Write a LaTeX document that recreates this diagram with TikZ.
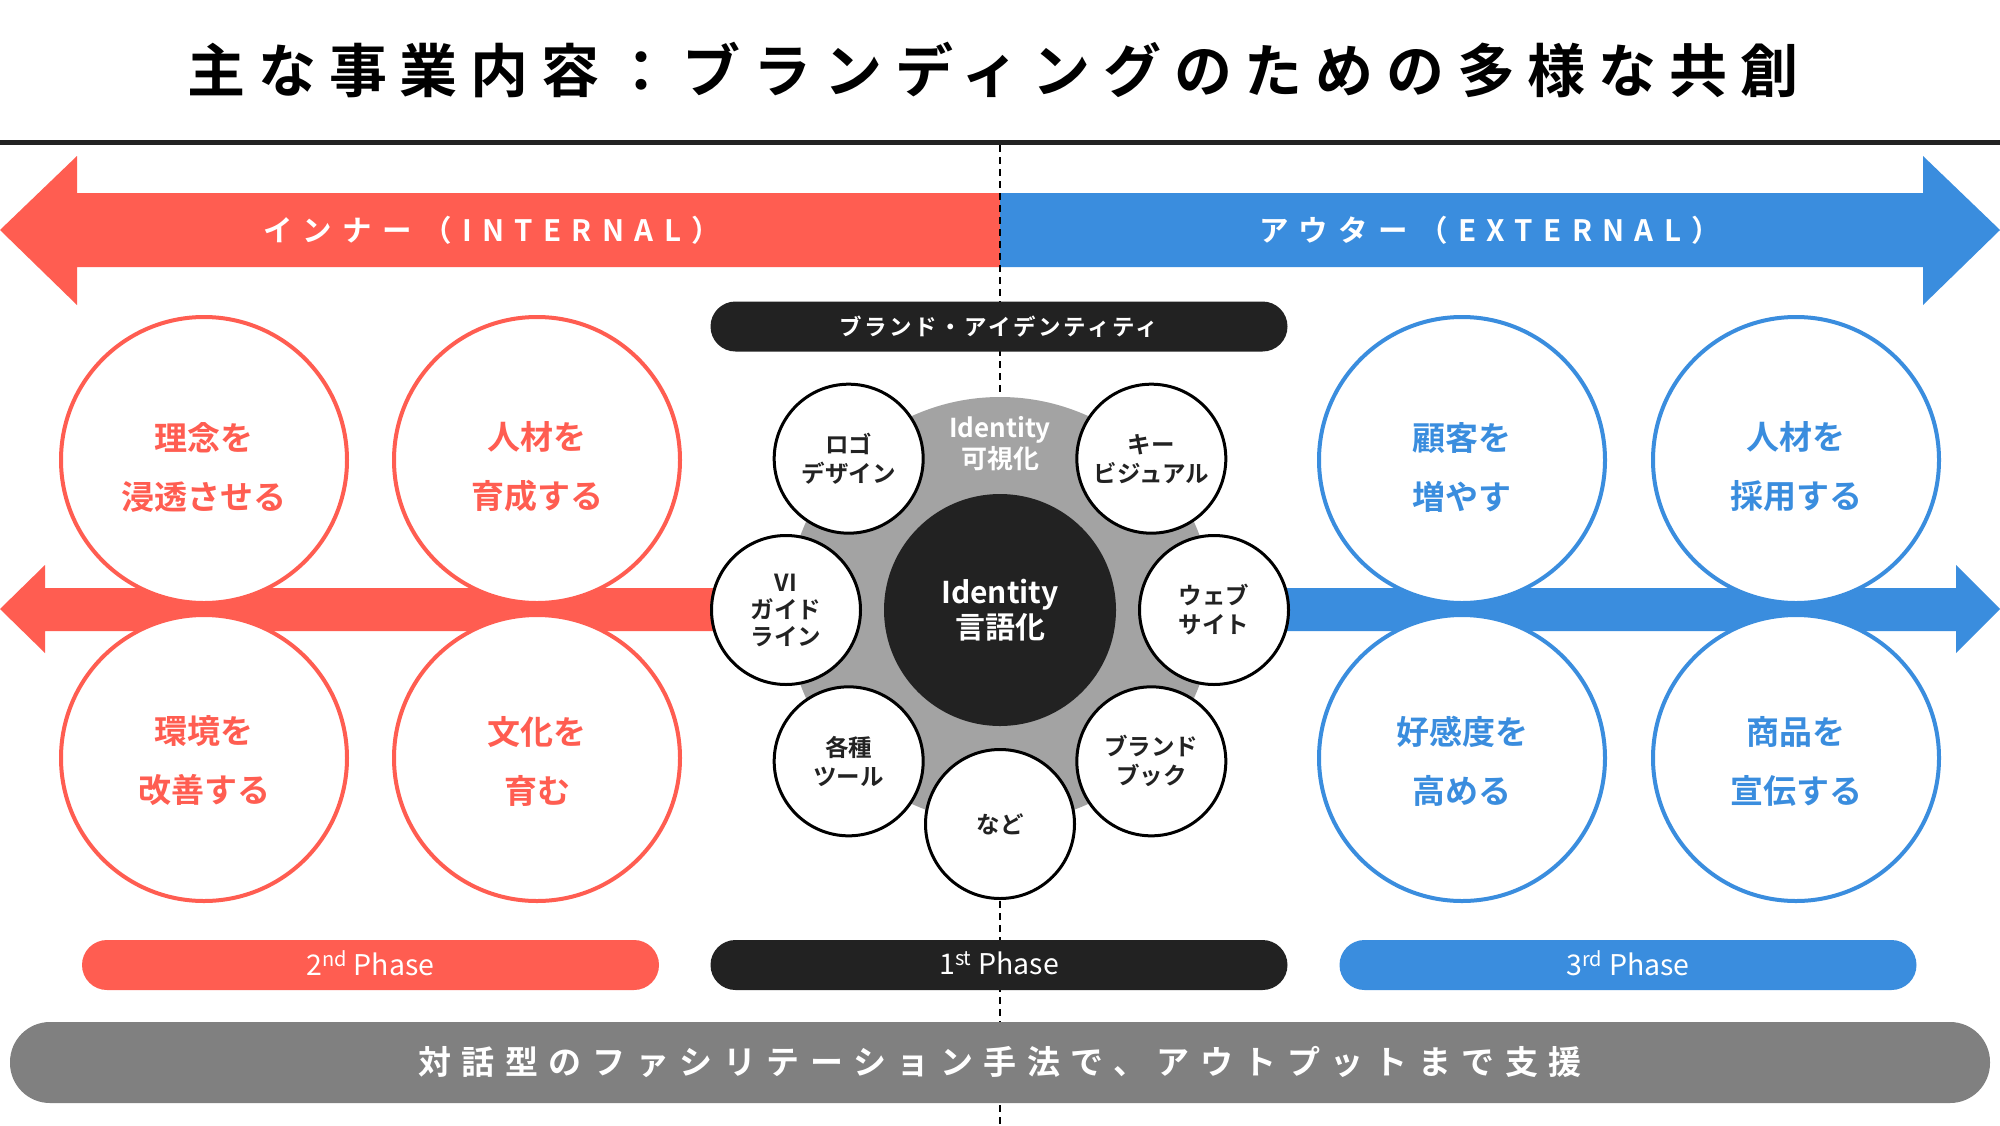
\documentclass[tikz,border=0pt]{standalone}
\usepackage{fontspec}
\usetikzlibrary{calc}
\setmainfont{Noto Sans CJK JP}[BoldFont={Noto Sans CJK JP Bold}]
\definecolor{redc}{HTML}{FF5D51}
\definecolor{bluec}{HTML}{3A8DDE}
\definecolor{darkc}{HTML}{222222}
\definecolor{grayp}{HTML}{808080}
\definecolor{grayc}{HTML}{A3A3A3}
\begin{document}
\begin{tikzpicture}[x=1pt,y=-1pt,
  outerR/.style={circle, draw=redc, line width=4pt, fill=white, minimum size=286pt, inner sep=0pt},
  outerB/.style={outerR, draw=bluec},
  ctext/.style={text=#1, align=center, font=\fontsize{33}{59}\selectfont\bfseries},
  small/.style={circle, draw=black, line width=3pt, fill=white, minimum size=149pt, inner sep=0pt, align=center, text=darkc, font=\fontsize{23.5}{29}\selectfont\bfseries},
  pill/.style={fill=#1, rounded corners=25pt, minimum width=577pt, minimum height=50pt, inner sep=0pt, text=white, font=\fontsize{28.5}{30}\selectfont},
]
\useasboundingbox (0,0) rectangle (2000,1125);
\fill[white] (0,0) rectangle (2000,1125);

% title
\node (title) at (993,70) {\fontsize{58}{60}\selectfont\bfseries\addfontfeature{LetterSpace=22}主な事業内容：ブランディングのための多様な共創};
\fill[darkc] (0,139.5) rectangle (2000,144.5);

% top arrows
\fill[redc] (1000,193) -- (77,193) -- (77,156) -- (0,230) -- (77,305) -- (77,267) -- (1000,267) -- cycle;
\fill[bluec] (1000,193) -- (1923,193) -- (1923,156) -- (2000,230) -- (1923,305) -- (1923,267) -- (1000,267) -- cycle;
\node[text=white, font=\fontsize{29.5}{32}\selectfont\bfseries] (inner) at (492,230) {\addfontfeature{LetterSpace=35}インナー（INTERNAL）};
\node[text=white, font=\fontsize{29.5}{32}\selectfont\bfseries] (outer) at (1490,230) {\addfontfeature{LetterSpace=35}アウター（EXTERNAL）};

% middle arrows
\fill[redc] (1000,588) -- (45,588) -- (45,565) -- (0,609) -- (45,653) -- (45,631) -- (1000,631) -- cycle;
\fill[bluec] (1000,588) -- (1956,588) -- (1956,565) -- (2000,609) -- (1956,653) -- (1956,631) -- (1000,631) -- cycle;

% dashed center line
\coordinate (dtop) at (1000,145);
\coordinate (dbot) at (1000,1125);
\draw[black, line width=2.5pt, dash pattern=on 7pt off 5pt] (dtop) -- (dbot);

% brand identity pill
\node[pill=darkc, font=\fontsize{22.5}{26}\selectfont\bfseries] (brand) at (999,326.5) {\addfontfeature{LetterSpace=11}ブランド・アイデンティティ};

% center cluster
\node[circle, fill=grayc, minimum size=426pt, inner sep=0pt] (gray) at (1000,610) {};
\node[circle, fill=darkc, minimum size=232pt, inner sep=0pt, text=white, align=center, font=\fontsize{30}{35}\selectfont\bfseries] (core) at (1000,610) {Identity\\言語化};
\node[text=white, align=center, font=\fontsize{26}{31}\selectfont\bfseries] (vis) at (1000,444) {Identity\\可視化};

\node[small] (logo) at ($(gray)+(225:214)$) {ロゴ\\デザイン};
\node[small] (kv)   at ($(gray)+(315:214)$) {キー\\ビジュアル};
\node[small, font=\fontsize{23.5}{27}\selectfont\bfseries] (vi) at ($(gray)+(180:214)$) {VI\\ガイド\\ライン};
\node[small] (web)  at ($(gray)+(0:214)$) {ウェブ\\サイト};
\node[small] (tool) at ($(gray)+(135:214)$) {各種\\ツール};
\node[small] (book) at ($(gray)+(45:214)$) {ブランド\\ブック};
\node[small] (etc)  at ($(gray)+(90:214)$) {など};

% outer circles
\node[outerR] (r1) at (204,460) {};
\node[outerR] (r2) at (537,460) {};
\node[outerR] (r3) at (204,758) {};
\node[outerR] (r4) at (537,758) {};
\node[outerB] (b1) at (1462,460) {};
\node[outerB] (b2) at (1796,460) {};
\node[outerB] (b3) at (1462,758) {};
\node[outerB] (b4) at (1796,758) {};
\node[ctext=redc] (t1) at ($(r1)+(0,7)$) {理念を\\浸透させる};
\node[ctext=redc] (t2) at ($(r2)+(0,7)$) {人材を\\育成する};
\node[ctext=redc] (t3) at ($(r3)+(0,3)$) {環境を\\改善する};
\node[ctext=redc] (t4) at ($(r4)+(0,3)$) {文化を\\育む};
\node[ctext=bluec] (t5) at ($(b1)+(0,7)$) {顧客を\\増やす};
\node[ctext=bluec] (t6) at ($(b2)+(0,7)$) {人材を\\採用する};
\node[ctext=bluec] (t7) at ($(b3)+(0,3)$) {好感度を\\高める};
\node[ctext=bluec] (t8) at ($(b4)+(0,3)$) {商品を\\宣伝する};

% phase pills
\node[pill=redc] (p2) at (370.5,965) {\raisebox{3pt}{2\textsuperscript{nd} Phase}};
\node[pill=darkc] (p1) at (999,965) {\raisebox{3pt}{1\textsuperscript{st} Phase}};
\node[pill=bluec] (p3) at (1628,965) {\raisebox{3pt}{3\textsuperscript{rd} Phase}};

% bottom bar
\node[fill=grayp, rounded corners=40pt, minimum width=1980pt, minimum height=81pt, inner sep=0pt, text=white, font=\fontsize{33}{36}\selectfont\bfseries] (bar) at (1000,1062.5) {\addfontfeature{LetterSpace=32}対話型のファシリテーション手法で、アウトプットまで支援};
\end{tikzpicture}
\end{document}
